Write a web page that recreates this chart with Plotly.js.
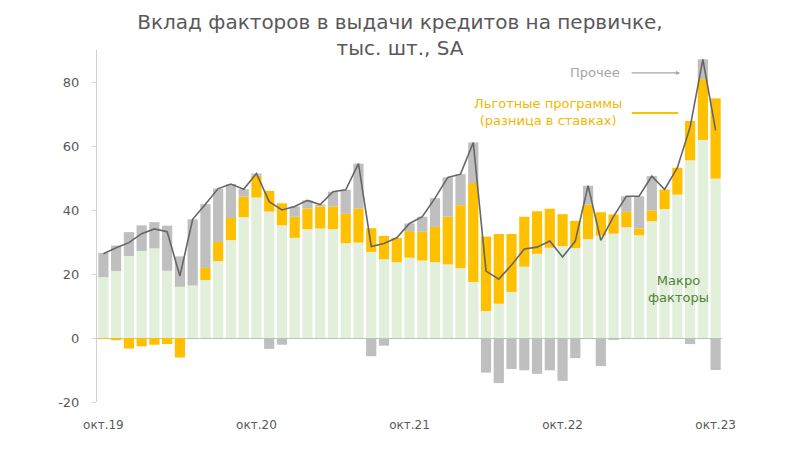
<!DOCTYPE html>
<html>
<head>
<meta charset="utf-8">
<script src="https://cdn.plot.ly/plotly-3.0.1.min.js"></script>
<style>html,body{margin:0;padding:0;background:#fff;}#chart{width:800px;height:449px;}</style>
</head>
<body>
<div id="chart"></div>
<script>
const months = [
 "окт.19","ноя.19","дек.19","янв.20","фев.20","мар.20","апр.20","май.20","июн.20","июл.20","авг.20","сен.20",
 "окт.20","ноя.20","дек.20","янв.21","фев.21","мар.21","апр.21","май.21","июн.21","июл.21","авг.21","сен.21",
 "окт.21","ноя.21","дек.21","янв.22","фев.22","мар.22","апр.22","май.22","июн.22","июл.22","авг.22","сен.22",
 "окт.22","ноя.22","дек.22","янв.23","фев.23","мар.23","апр.23","май.23","июн.23","июл.23","авг.23","сен.23",
 "окт.23"
];
const macro = [19.0,20.9,25.6,27.2,28.0,21.0,16.0,16.4,18.1,24.0,30.6,37.8,
 43.9,39.5,35.2,31.3,34.0,34.2,34.0,29.6,29.8,26.9,24.6,23.7,
 25.1,24.2,23.7,23.0,21.8,17.5,8.4,10.7,14.4,22.3,26.3,28.2,
 28.7,28.1,30.9,32.0,32.6,34.6,32.1,36.5,40.3,44.8,55.5,61.9,
 49.8];
const programs = [-0.3,-0.7,-3.3,-2.6,-2.1,-1.9,-6.1,0,3.8,6.0,6.9,6.4,
 6.8,6.5,6.9,6.6,6.5,6.9,7.1,9.2,10.6,7.4,7.3,7.6,
 8.3,9.0,11.0,14.9,19.7,30.9,23.3,21.8,18.1,15.6,13.3,12.2,
 10.0,8.5,10.8,7.3,6.0,4.8,2.1,3.4,6.1,8.4,12.3,19.0,
 25.1];
const other = [7.6,8.0,7.5,8.0,8.2,14.1,9.5,20.7,19.9,16.7,10.6,2.3,
 0.7,-3.4,-2.1,3.2,2.5,0.6,4.6,7.5,14.1,-5.7,-2.4,0,
 2.4,4.7,9.0,12.3,9.7,12.7,-10.8,-14.1,-9.7,-10.1,-11.2,-10.1,
 -13.4,-6.3,5.9,-8.8,-0.6,4.9,10.1,10.7,0,0,-1.9,6.2,
 -10.0];
const total = [26.3,28.2,29.8,32.6,34.1,33.2,19.4,37.1,41.8,46.7,48.1,46.5,
 51.4,42.6,40.0,41.1,43.0,41.7,45.7,46.3,54.5,28.6,29.5,31.3,
 35.8,37.9,43.7,50.2,51.2,61.1,20.9,18.4,22.8,27.8,28.4,30.3,
 25.3,30.3,47.6,30.5,38.0,44.3,44.3,50.6,46.4,53.2,65.9,87.1,
 64.9];
const tickLabels = ["окт.19","окт.20","окт.21","окт.22","окт.23"];
const yTicks = [-20,0,20,40,60,80];
const yTickText = ["-20","0","20","40","60","80"];

const FONT = "DejaVu Sans, Verdana, sans-serif";
const traces = [
 {type:"bar", x:months, y:macro, name:"Макро факторы", marker:{color:"#e2efda"}, hoverinfo:"skip"},
 {type:"bar", x:months, y:programs, name:"Льготные программы", marker:{color:"#ffc000"}, hoverinfo:"skip"},
 {type:"bar", x:months, y:other, name:"Прочее", marker:{color:"#bfbfbf"}, hoverinfo:"skip"},
 {type:"scatter", mode:"lines", x:months, y:total, name:"Итого", line:{color:"#666666", width:1.6}, hoverinfo:"skip"}
];
const layout = {
 width:800, height:449,
 margin:{l:97, r:78, t:50, b:47},
 paper_bgcolor:"#ffffff", plot_bgcolor:"#ffffff",
 barmode:"relative", bargap:0.2,
 showlegend:false,
 font:{family:FONT, color:"#595959", size:13},
 title:{text:"Вклад факторов в выдачи кредитов на первичке,<br>тыс. шт., SA",
   font:{family:FONT, size:20, color:"#595959"}, x:0.5, xanchor:"center", y:0.936, yanchor:"top"},
 xaxis:{type:"category", range:[-0.5,48.5], tickmode:"array", tickvals:tickLabels, ticktext:tickLabels,
   showline:false, showgrid:false, zeroline:false, ticks:"", ticklabelstandoff:14,
   tickfont:{family:FONT, size:12, color:"#595959"}},
 yaxis:{range:[-20,90], tickmode:"array", tickvals:yTicks, ticktext:yTickText, showgrid:false,
   zeroline:true, zerolinecolor:"#bfbfbf", zerolinewidth:1,
   showline:true, linecolor:"#d0d0d0", linewidth:1, ticks:"outside", ticklen:4, tickcolor:"#d0d0d0",
   ticklabelstandoff:10, tickfont:{family:FONT, size:13, color:"#595959"}},
 annotations:[
  {xref:"paper", yref:"paper", x:0.84, y:0.935, xanchor:"right", yanchor:"middle", text:"Прочее",
   showarrow:false, font:{family:FONT, size:13, color:"#a6a6a6"}},
  {xref:"paper", yref:"paper", x:0.933, y:0.935, text:"", showarrow:true, ax:-50, ay:0,
   arrowhead:2, arrowsize:0.7, arrowwidth:1.2, arrowcolor:"#a6a6a6"},
  {xref:"paper", yref:"paper", x:0.843, y:0.824, xanchor:"right", yanchor:"middle", align:"center",
   text:"Льготные программы<br>(разница в ставках)", showarrow:false, font:{family:FONT, size:13, color:"#f2b700"}},
  {xref:"paper", yref:"paper", x:0.93, y:0.821, text:"", showarrow:true, ax:-48, ay:0,
   arrowhead:0, arrowwidth:2, arrowcolor:"#ffc000"},
  {xref:"paper", yref:"paper", x:0.931, y:0.321, xanchor:"center", yanchor:"middle", align:"center",
   text:"Макро<br>факторы", showarrow:false, font:{family:FONT, size:13, color:"#548235"}}
 ]
};
Plotly.newPlot("chart", traces, layout, {staticPlot:true, displayModeBar:false});
</script>
</body>
</html>
